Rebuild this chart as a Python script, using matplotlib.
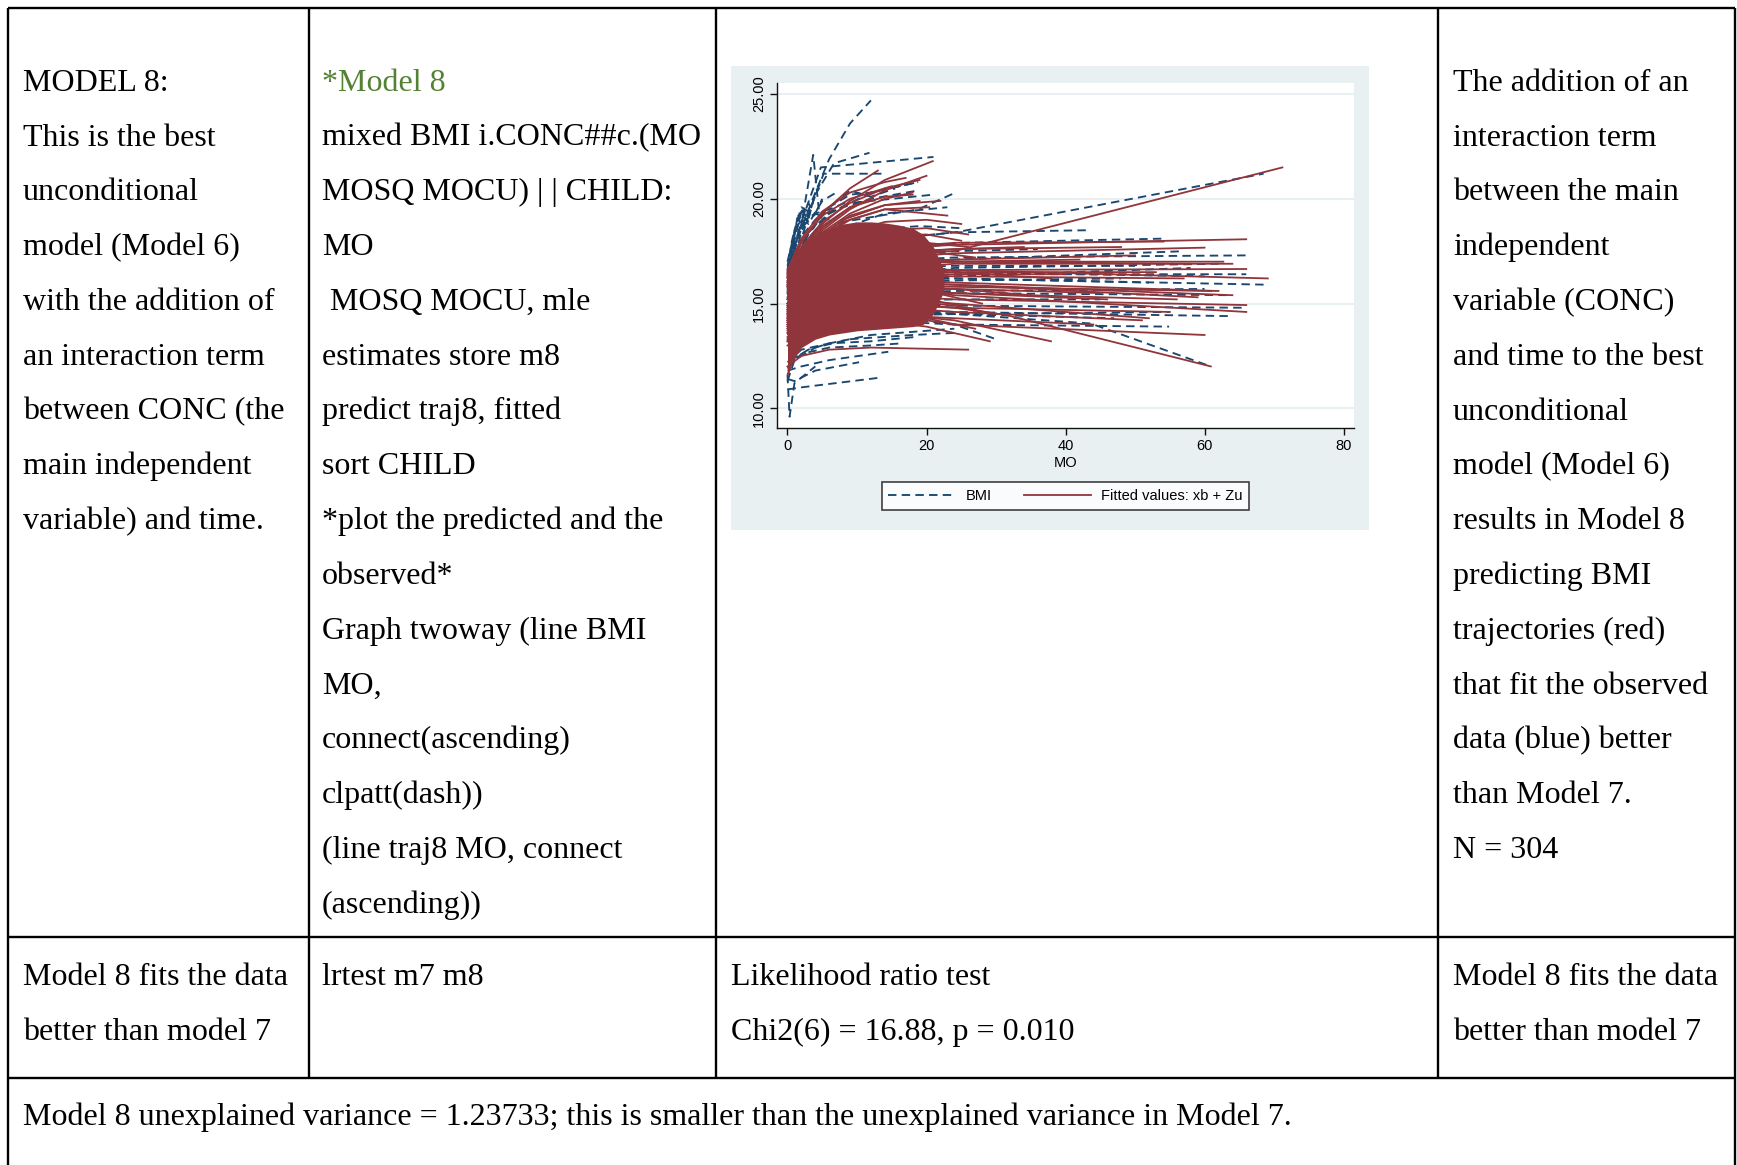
import matplotlib
matplotlib.use("Agg")
import matplotlib.pyplot as plt
from matplotlib.lines import Line2D
from matplotlib.patches import Rectangle

# ---------------- table text ----------------
col1_lines = ["MODEL 8:", "This is the best", "unconditional", "model (Model 6)",
              "with the addition of", "an interaction term", "between CONC (the",
              "main independent", "variable) and time."]
col2_lines = ["*Model 8", "mixed BMI i.CONC##c.(MO", "MOSQ MOCU) | | CHILD:", "MO",
              " MOSQ MOCU, mle", "estimates store m8", "predict traj8, fitted",
              "sort CHILD", "*plot the predicted and the", "observed*",
              "Graph twoway (line BMI", "MO,", "connect(ascending)", "clpatt(dash))",
              "(line traj8 MO, connect", "(ascending))"]
col4_lines = ["The addition of an", "interaction term", "between the main",
              "independent", "variable (CONC)", "and time to the best",
              "unconditional", "model (Model 6)", "results in Model 8",
              "predicting BMI", "trajectories (red)", "that fit the observed",
              "data (blue) better", "than Model 7.", "N = 304"]
row2_col1 = ["Model 8 fits the data", "better than model 7"]
row2_col2 = ["lrtest m7 m8"]
row2_col3 = ["Likelihood ratio test", "Chi2(6) = 16.88, p = 0.010"]
row2_col4 = ["Model 8 fits the data", "better than model 7"]
row3_text = ("Model 8 unexplained variance = 1.23733; this is smaller than the "
             "unexplained variance in Model 7.")

# ---------------- chart data ----------------
# observed BMI trajectories (MO, BMI) per child
observed_mo = [
    [0, 1, 2, 4, 6, 9, 12], [0, 1, 2, 3.7, 4.5], [0, 2, 4.8, 21], [0, 2, 5.2, 13.6],
    [0, 2, 4, 6.7, 11.8], [0, 1, 3, 6, 9, 12, 18.8], [0, 2, 6, 12, 18.8],
    [0, 3, 8, 18.8, 24.2], [0, 6, 12, 24.2, 68.5], [0, 4, 12, 24, 43],
    [0, 6, 12, 25, 54], [0, 6, 12, 24, 66], [0, 6, 12, 24, 69.1], [0, 6, 12, 24, 66],
    [0, 6, 12, 24, 66], [0, 6, 12, 24, 63.9], [0, 6, 12, 24, 63.9],
    [0, 6, 12, 20, 43.6, 60.9], [0, 6, 12, 24, 54.9], [0, 2, 13], [0, 0.3, 1, 4],
    [0, 1, 4, 10.3], [0, 2, 6, 14.5], [0, 2, 6, 12, 16.4], [0, 2, 6, 12, 18.2],
    [0, 1, 4, 9, 18, 24], [0, 1, 2, 4, 6, 9], [0, 1, 2, 3, 5, 7], [0, 0.5, 1, 2, 4],
    [0, 1, 2.5, 4, 6, 9, 12, 15.5], [0, 1, 3, 6, 9, 12, 18, 21],
    [0, 6, 12, 24, 57], [0, 6, 12, 24, 62], [0, 6, 12, 24, 58], [0, 6, 12, 24, 60],
    [0, 6, 12, 24, 48], [0, 6, 12, 24, 55], [0, 6, 12, 24, 50], [0, 6, 12, 24, 45],
    [0, 6, 12, 24, 30], [0, 4, 9, 15, 19, 25], [0, 3, 8, 14, 23], [0, 2, 6, 12, 18.8],
    [0, 0.5, 1, 1.5, 2, 3], [0, 0.5, 1, 2, 3, 4, 5], [0, 1, 2, 3, 4],
    [0, 0.5, 1, 2, 4, 6], [0, 6, 12, 24, 36], [0, 6, 12, 24, 52], [0, 6, 12, 24, 47],
    [0, 1, 3, 6, 12, 24], [0, 6, 12, 24, 60],
]
observed_bmi = [
    [16.2, 17.5, 18.6, 20.3, 21.9, 23.6, 24.7], [16.0, 17.6, 18.8, 22.1, 19.5],
    [16.4, 18.9, 21.5, 22.0], [16.0, 18.4, 21.2, 21.2], [15.8, 18.1, 20.2, 21.7, 22.2],
    [15.5, 16.9, 18.3, 19.6, 20.2, 20.3, 20.8], [15.2, 17.5, 19.4, 20.0, 20.4],
    [15.0, 17.2, 18.9, 19.5, 20.3], [15.5, 17.0, 18.0, 18.4, 21.2],
    [15.0, 16.8, 18.0, 18.4, 18.5], [14.8, 16.5, 17.4, 17.9, 18.1],
    [14.6, 16.3, 17.0, 17.2, 17.3], [14.4, 15.9, 16.3, 16.2, 15.9],
    [14.3, 15.8, 16.2, 16.4, 16.4], [13.8, 14.9, 15.0, 14.9, 14.8],
    [13.6, 14.7, 14.8, 14.6, 14.4], [14.2, 15.4, 15.6, 15.5, 15.4],
    [13.5, 14.6, 14.8, 14.6, 14.05, 12.0], [13.2, 14.0, 14.2, 14.0, 13.9],
    [10.9, 11.0, 11.45], [11.6, 9.6, 11.2, 12.0], [11.4, 11.3, 11.8, 12.2],
    [11.8, 12.0, 12.3, 12.7], [11.9, 12.6, 12.9, 13.0, 13.1],
    [12.2, 12.8, 13.1, 13.2, 13.4], [11.3, 12.3, 12.9, 13.3, 13.5, 13.6],
    [16.3, 17.8, 18.9, 19.3, 19.5, 19.9], [16.5, 18.0, 19.4, 18.8, 19.9, 20.3],
    [16.4, 17.2, 18.5, 19.6, 19.2], [15.8, 17.2, 18.4, 19.0, 19.6, 20.4, 20.1, 20.5],
    [16.0, 17.0, 18.4, 19.3, 19.8, 19.9, 20.1, 20.2],
    [14.6, 16.2, 16.8, 17.1, 17.5], [14.0, 15.6, 16.3, 16.7, 16.9],
    [13.9, 15.3, 15.9, 16.3, 16.7], [13.7, 15.0, 15.5, 15.6, 15.7],
    [14.1, 15.5, 16.0, 16.1, 16.2], [13.3, 14.2, 14.4, 14.5, 14.6],
    [14.5, 16.2, 16.7, 16.8, 16.8], [13.6, 14.8, 15.1, 15.2, 15.2],
    [13.4, 14.3, 14.5, 14.0, 13.3], [15.3, 17.3, 18.2, 18.6, 18.7, 18.6],
    [15.4, 17.4, 18.6, 19.3, 19.6], [15.9, 17.7, 19.3, 20.3, 20.8],
    [16.8, 17.5, 18.2, 19.3, 18.6, 19.4], [16.6, 17.8, 18.5, 19.0, 19.8, 19.3, 20.0],
    [17.0, 18.4, 19.5, 19.0, 20.3], [16.2, 17.4, 17.9, 18.6, 19.3, 19.0],
    [14.9, 16.5, 17.2, 17.5, 17.6], [14.2, 15.6, 16.1, 16.2, 16.0],
    [13.5, 14.5, 14.7, 14.5, 14.3], [11.6, 12.4, 12.8, 13.1, 13.5, 13.8],
    [14.4, 16.0, 16.5, 16.5, 16.3],
]

# fitted values xb + Zu per child (MO, fitted BMI)
fitted_mo = [
    [0, 2, 5, 9, 14, 20.9], [0, 2, 5, 9, 14, 20], [0, 2, 5, 9, 13], [0, 2, 5, 9, 14, 18],
    [0, 2, 5, 9, 14, 23], [0, 3, 8, 14, 19], [0, 6, 12, 24, 71.2], [0, 6, 12, 24, 66],
    [0, 6, 12, 24, 69.1], [0, 6, 12, 24, 66], [0, 6, 12, 24, 66], [0, 6, 12, 24, 60],
    [0, 6, 12, 24, 31.5, 60.9], [0, 2, 6, 12, 26], [0, 6, 12, 20, 29.1],
    [0, 6, 12, 24, 37.9], [0, 6, 12, 24, 56], [0, 6, 12, 24, 60], [0, 6, 12, 24, 57],
    [0, 6, 12, 24, 62], [0, 6, 12, 24, 50], [0, 6, 12, 24, 45], [0, 6, 12, 24, 55],
    [0, 6, 12, 24, 64], [0, 6, 12, 24, 48], [0, 6, 12, 24, 52], [0, 6, 12, 24, 40],
    [0, 6, 12, 24, 35], [0, 6, 12, 24, 58], [0, 6, 12, 24, 44], [0, 6, 12, 24, 54.1],
    [0, 2, 5, 9, 14, 18], [0, 2, 5, 9, 12], [0, 3, 8, 14, 20.4], [0, 6, 12, 24, 62.7],
    [0, 6, 12, 24, 66], [0, 2, 5, 9, 14, 19], [0, 2, 5, 9, 15], [0, 2, 5, 9, 14, 22],
    [0, 3, 8, 14, 20, 25], [0, 3, 8, 14, 20, 26], [0, 6, 12, 24, 30],
    [0, 6, 12, 24, 34], [0, 6, 12, 24, 42], [0, 6, 12, 24, 46], [0, 6, 12, 24, 53],
    [0, 6, 12, 24, 61], [0, 6, 12, 24, 59], [0, 6, 12, 24, 51], [0, 6, 12, 24, 38],
    [0, 6, 12, 20, 27], [0, 6, 12, 24, 64], [0, 2, 5, 9, 14, 17],
    [0, 6, 12, 20, 25], [0, 6, 12, 20, 26], [0, 6, 12, 20, 24], [0, 6, 12, 20, 28],
    [0, 6, 12, 20, 25], [0, 6, 12, 20, 27],
]
fitted_bmi = [
    [16.2, 17.6, 18.8, 19.9, 20.9, 21.8], [16.0, 17.3, 18.5, 19.5, 20.4, 21.1],
    [16.4, 17.9, 19.3, 20.5, 21.35], [15.8, 17.2, 18.4, 19.3, 20.0, 20.3],
    [15.6, 17.0, 18.2, 19.0, 19.5, 19.2], [15.9, 17.7, 19.0, 19.7, 19.9],
    [15.2, 16.8, 17.4, 17.5, 21.5], [15.0, 16.8, 17.6, 17.8, 18.07],
    [14.7, 16.4, 16.8, 16.6, 16.2], [14.5, 16.0, 16.5, 16.6, 16.65],
    [14.0, 15.2, 15.4, 15.2, 14.93], [13.4, 14.5, 14.6, 14.0, 13.5],
    [13.6, 14.8, 15.1, 14.8, 14.45, 12.0], [12.0, 12.5, 12.8, 12.9, 12.8],
    [13.0, 14.0, 14.2, 13.9, 13.2], [13.3, 14.4, 14.6, 14.2, 13.2],
    [14.0, 15.3, 15.6, 15.5, 15.2], [14.8, 16.5, 17.1, 17.4, 17.67],
    [14.5, 16.0, 16.4, 16.3, 16.2], [14.3, 15.8, 16.2, 16.0, 15.6],
    [14.6, 16.3, 16.9, 17.1, 17.3], [14.2, 15.6, 15.9, 15.7, 15.5],
    [13.7, 14.8, 15.0, 14.8, 14.6], [14.4, 16.0, 16.6, 16.9, 16.9],
    [14.9, 16.7, 17.4, 17.6, 17.7], [13.9, 15.0, 15.3, 15.0, 14.3],
    [14.3, 15.9, 16.3, 16.4, 16.4], [14.0, 15.2, 15.6, 15.7, 15.4],
    [14.7, 16.3, 16.9, 17.0, 16.9], [13.2, 14.2, 14.5, 14.3, 14.0],
    [15.0, 16.9, 17.6, 17.9, 17.96], [16.1, 17.5, 18.7, 19.6, 20.1, 20.2],
    [15.9, 17.3, 18.6, 19.6, 20.0], [15.7, 17.5, 18.9, 19.5, 19.6],
    [14.8, 16.4, 16.9, 17.0, 17.0], [14.2, 15.5, 15.8, 15.4, 14.6],
    [16.3, 17.7, 18.9, 19.8, 20.5, 20.9], [16.5, 18.0, 19.2, 20.0, 20.6],
    [15.8, 17.2, 18.3, 19.2, 19.7, 19.9], [15.5, 17.0, 18.3, 18.9, 19.0, 18.8],
    [15.2, 16.8, 18.0, 18.5, 18.6, 18.3], [13.8, 15.0, 15.3, 14.9, 14.5],
    [14.9, 16.6, 17.3, 17.6, 17.7], [14.6, 16.2, 16.8, 17.0, 17.1],
    [13.9, 15.2, 15.6, 15.5, 15.2], [14.4, 15.9, 16.4, 16.5, 16.5],
    [14.1, 15.5, 15.9, 15.8, 15.6], [14.3, 15.7, 16.1, 15.9, 15.3],
    [13.6, 14.7, 14.9, 14.6, 14.2], [14.5, 16.0, 16.5, 16.5, 16.2],
    [13.2, 14.3, 14.5, 14.3, 13.8], [14.2, 15.6, 16.0, 15.9, 15.4],
    [16.6, 18.1, 19.4, 20.3, 20.8, 21.0],
    [15.3, 17.3, 18.2, 18.3, 18.0], [15.0, 16.9, 17.7, 17.9, 17.7],
    [14.7, 16.5, 17.1, 17.2, 17.0], [14.1, 15.6, 15.9, 15.6, 15.0],
    [13.8, 15.1, 15.4, 15.2, 14.9], [14.9, 16.8, 17.5, 17.5, 17.2],
]

# band where the fitted trajectories overlap completely
core_mo = [0, 0.5, 1, 2, 3, 4, 6, 8, 10, 12, 14, 16, 18, 19.5, 21, 22.5]
core_hi = [16.6, 16.9, 17.2, 17.7, 18.0, 18.3, 18.6, 18.8, 18.9, 18.9, 18.85, 18.75,
           18.6, 18.3, 17.7, 16.6]
core_lo = [11.5, 12.0, 12.4, 12.9, 13.1, 13.3, 13.5, 13.6, 13.7, 13.75, 13.8, 13.85,
           13.9, 14.0, 14.5, 15.6]

x_ticks = [0, 20, 40, 60, 80]
y_ticks = [10, 15, 20, 25]
y_ticklabels = ["10.00", "15.00", "20.00", "25.00"]

NAVY = "#1a476f"
MAROON = "#90353b"
GREEN = "#548235"
SERIF = ["Liberation Serif", "DejaVu Serif"]
SANS = ["Liberation Sans", "DejaVu Sans"]

W, H = 1737, 1165
fig = plt.figure(figsize=(W / 100, H / 100), dpi=100)
fig.patch.set_facecolor("white")

# page layer in pixel coordinates
page = fig.add_axes([0, 0, 1, 1])
page.set_xlim(0, W)
page.set_ylim(H, 0)
page.axis("off")

LW = 1.7
xs = [8, 309, 716, 1438, 1735]
for x in xs[1:-1]:
    page.plot([x, x], [8, 1078], color="black", lw=LW, solid_capstyle="butt")
for x in (xs[0], xs[-1]):
    page.plot([x, x], [8, H], color="black", lw=LW, solid_capstyle="butt")
for y in (8, 937, 1078):
    page.plot([8, 1735], [y, y], color="black", lw=LW, solid_capstyle="butt")

FS = 23
LINE = 54.8
def column(lines, x, y0, colors=None):
    for i, t in enumerate(lines):
        c = colors[i] if colors else "black"
        page.text(x, y0 + i * LINE, t, fontsize=FS, family=SERIF, color=c,
                  va="baseline", ha="left")

column(col1_lines, 23, 90.7)
column(col2_lines, 322, 90.7, [GREEN] + ["black"] * (len(col2_lines) - 1))
column(col4_lines, 1453, 90.7)
column(row2_col1, 23, 985)
column(row2_col2, 322, 985)
column(row2_col3, 731, 985)
column(row2_col4, 1453, 985)
column([row3_text], 23, 1125)

# graph region background
page.add_patch(Rectangle((731, 66), 638, 464, facecolor="#e9f0f2", edgecolor="none", zorder=0))

# plot region
ax = fig.add_axes([777 / W, 1 - 428 / H, 577 / W, 345 / H])
ax.set_facecolor("white")
ax.set_xlim(-1.51, 81.5)
ax.set_ylim(9.06, 25.53)

for yt in y_ticks:
    ax.axhline(yt, color="#e9f0f2", lw=1.5, zorder=1)

for mo, bmi in zip(observed_mo, observed_bmi):
    ax.plot(mo, bmi, color=NAVY, lw=1.35, dashes=(4.5, 2.8), zorder=2)
ax.fill_between(core_mo, core_lo, core_hi, color=MAROON, lw=0, zorder=3)
for mo, fv in zip(fitted_mo, fitted_bmi):
    ax.plot(mo, fv, color=MAROON, lw=1.3, zorder=4)

for s in ("top", "right"):
    ax.spines[s].set_visible(False)
for s in ("left", "bottom"):
    ax.spines[s].set_color("#111111")
    ax.spines[s].set_linewidth(1.0)

SFS = 10.5
ax.set_xticks(x_ticks)
ax.set_xticklabels([str(v) for v in x_ticks], fontsize=SFS, family=SANS)
ax.set_yticks(y_ticks)
ax.set_yticklabels(y_ticklabels, fontsize=SFS, family=SANS, rotation=90, va="center")
ax.tick_params(axis="both", length=5, width=1.0, color="#111111", pad=3)
ax.set_xlabel("MO", fontsize=SFS, family=SANS, labelpad=2)

handles = [Line2D([], [], color=NAVY, lw=1.35, dashes=(4.5, 2.8)),
           Line2D([], [], color=MAROON, lw=1.3)]
leg = fig.legend(handles, ["BMI", "Fitted values: xb + Zu"], ncol=2,
                 loc="center", bbox_to_anchor=(1065.5 / W, 1 - 496 / H),
                 prop={"family": SANS, "size": SFS}, frameon=True, fancybox=False,
                 handlelength=4.6, columnspacing=2.2, handletextpad=0.7,
                 borderpad=0.45)
leg.get_frame().set_edgecolor("#111111")
leg.get_frame().set_linewidth(1.2)

fig.savefig("out.png", dpi=100, facecolor="white")
